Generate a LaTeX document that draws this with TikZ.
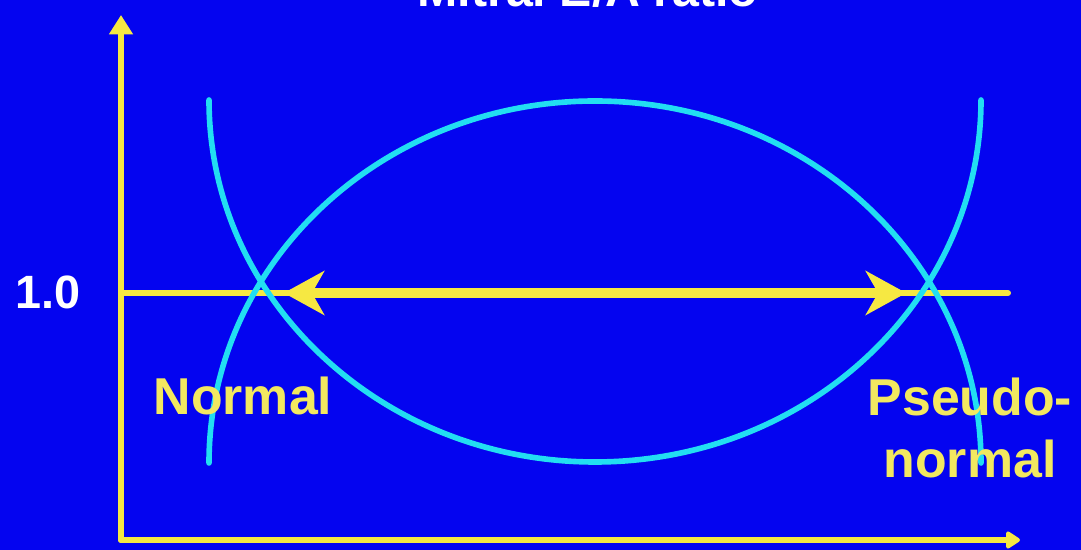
\documentclass[tikz,border=0pt]{standalone}
\usepackage{fontspec}
\setmainfont{Liberation Sans}
\usetikzlibrary{arrows.meta}
\definecolor{slideblue}{RGB}{4,4,240}
\definecolor{axisyellow}{RGB}{246,232,66}
\definecolor{labelyellow}{RGB}{242,232,96}
\definecolor{curvecyan}{RGB}{34,222,242}
\begin{document}
\begin{tikzpicture}[x=0.02cm,y=0.02cm,line cap=round,line join=round,
  axis/.style={draw=axisyellow,line width=3.4pt},
  curve/.style={draw=curvecyan,line width=3.2pt},
  ratio/.style={draw=axisyellow,line width=5.6pt,{Stealth[length=23pt,width=25pt,inset=7pt]}-{Stealth[length=23pt,width=25pt,inset=7pt]}},
  tag/.style={text=labelyellow,font=\bfseries\fontsize{29.5}{35.7}\selectfont,align=center,inner sep=0pt}]
\useasboundingbox (0,0) rectangle (1081,550);
\fill[slideblue] (0,0) rectangle (1081,550);
\coordinate (O) at (121,10);
\coordinate (ytop) at (121,535);
\coordinate (xend) at (1020,10);
\coordinate (one) at (121,257);
\coordinate (lineend) at (1008,257);
\coordinate (cl) at (268,257);
\coordinate (cr) at (922,257);
% axes and the 1.0 line
\draw[axis,-{Triangle[length=11pt,width=13pt]}] (O) -- (ytop);
\draw[axis,-{Triangle[length=9pt,width=11pt,round]}] (O) -- (xend);
\draw[axis] (one) -- (lineend);
% the two curves
\draw[curve] (209,450) arc[start angle=180,end angle=360,x radius=386,y radius=362];
\draw[curve] (209,87) arc[start angle=180,end angle=0,x radius=386,y radius=362];
\draw[ratio,shorten >=9pt,shorten <=9pt] (cl) -- (cr);
% labels
\node[anchor=base,text=white,font=\bfseries\fontsize{27.5}{33}\selectfont,inner sep=0pt] (title) at (588,543) {Mitral E/A ratio};
\node[text=white,font=\bfseries\fontsize{26.6}{32}\selectfont,inner sep=0pt] (onelabel) at (48,258) {1.0};
\node[tag] (normal) at (243,154) {Normal};
\node[tag] (pseudo) at (970,122) {Pseudo-\\normal};
\end{tikzpicture}
\end{document}
